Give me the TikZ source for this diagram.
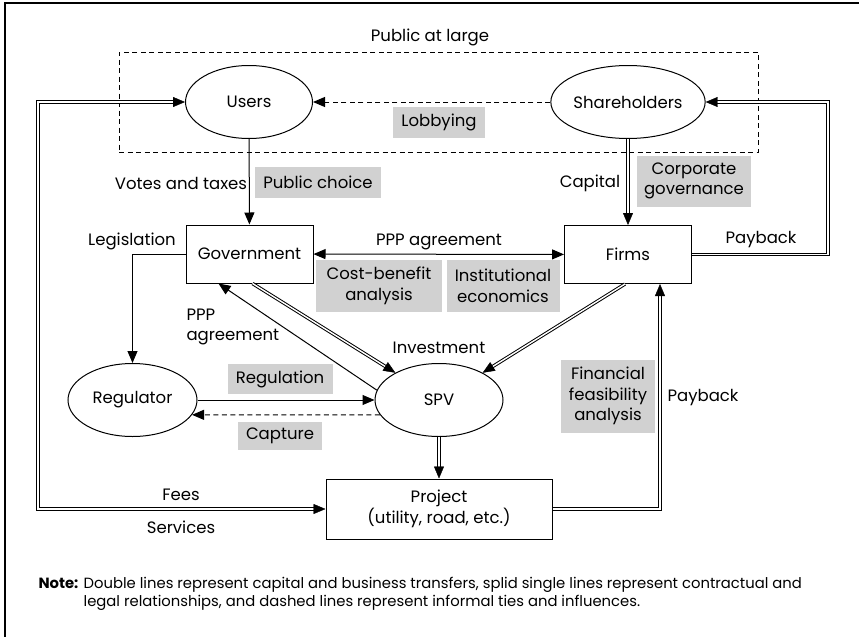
\documentclass[tikz,border=0pt]{standalone}
\usepackage{fontspec}
\setmainfont{Poppins}
\usetikzlibrary{arrows.meta,shapes.geometric}

\begin{document}
\begin{tikzpicture}[x=1pt,y={(0,-1pt)},line width=1pt,
		font=\fontsize{16.5}{20.5}\selectfont,
		actor/.style={draw,ellipse,minimum width=127pt,minimum height=73pt,inner sep=0pt},
		unit/.style={draw,rectangle,minimum width=127pt,minimum height=58pt,inner sep=0pt,align=center},
		field/.style={fill=black!18,inner sep=0pt,align=center},
		informal/.style={dash pattern=on 5pt off 3.5pt},
		dbl/.style={double,double distance=1.4pt,line width=1pt},
		tip/.style={-{Triangle[length=12pt,width=10pt]}},
		twotips/.style={{Triangle[length=12pt,width=10pt]}-{Triangle[length=12pt,width=10pt]}},
		dblhead/.style={white,line width=0.4pt,-{Triangle[length=12pt,width=10pt,black]}},
		dblheads/.style={white,line width=0.4pt,{Triangle[length=12pt,width=10pt,black]}-{Triangle[length=12pt,width=10pt,black]}}]
				\useasboundingbox (0,0) rectangle (859,637);
				\draw[line width=1.4pt] (859,3) -- (5,3) -- (5,637);
				\node[draw,informal,minimum width=639pt,minimum height=100pt,inner sep=0pt] (public) at (438.5,102) {};
				\node (pubtxt) at (430,37) {Public at large};
				\node[actor] (users) at (249,102) {Users};
				\node[actor,minimum width=130pt] (share) at (628,102) {Shareholders};
				\node[unit] (gov) at (249.5,254) {Government};
				\node[unit] (firms) at (628,254.5) {Firms};
				\node[actor,minimum width=129pt] (reg) at (132.5,400) {Regulator};
				\node[actor,minimum width=128pt] (spv) at (439,400) {SPV};
				\node[unit,minimum width=226pt,minimum height=60pt] (proj) at (439,509) {Project\\(utility, road, etc.)};
				\coordinate (lw) at (38,102);
				\draw[informal,tip] (share) -- (users);
				\draw[tip] (users) -- (gov);
				\draw[twotips] (gov) -- (firms);
				\draw[tip] (gov.west) -| (reg.north);
				\draw[tip] (spv.171) -- ([xshift=-31pt]gov.south);
				\draw[tip] (reg.east) -- (spv.west);
				\draw[informal,tip] (spv.194) -- (reg.346);
				\draw[dbl,shorten >=9pt] (share) -- (firms);
				\draw[dblhead] (share) -- (firms);
				\draw[dbl,shorten >=9pt] (firms.east) -- ++(136,0) |- (share.east);
				\draw[dblhead] (firms.east) -- ++(136,0) |- (share.east);
				\draw[dbl,shorten >=9pt] ([xshift=3pt]gov.south) -- (spv);
				\draw[dblhead] ([xshift=3pt]gov.south) -- (spv);
				\draw[dbl,shorten >=9pt] ([xshift=-3pt]firms.south) -- (spv);
				\draw[dblhead] ([xshift=-3pt]firms.south) -- (spv);
				\draw[dbl,shorten >=9pt] (spv) -- (proj);
				\draw[dblhead] (spv) -- (proj);
				\draw[dbl,shorten <=9pt,shorten >=9pt] (users.west) -- (lw) |- (proj.west);
				\draw[dblheads] (users.west) -- (lw) |- (proj.west);
				\draw[dbl,shorten >=9pt] (proj.east) -| ([xshift=32pt]firms.south);
				\draw[dblhead] (proj.east) -| ([xshift=32pt]firms.south);
				\node[field,minimum width=92pt,minimum height=31pt] (lobby) at (439,122) {Lobbying};
				\node (votes) at (181,183) {Votes and taxes};
				\node[field,minimum width=126pt,minimum height=31pt] (pchoice) at (318,182) {Public choice};
				\node (capital) at (590,183) {Capital};
				\node[field,minimum width=114pt,minimum height=51pt] (corp) at (694,181) {Corporate\\governance};
				\node (legis) at (132,241) {Legislation};
				\node (pppa) at (439,242) {PPP agreement};
				\node (payback1) at (761,240) {Payback};
				\node[field,minimum width=126pt,minimum height=52pt] (cba) at (379,286) {Cost-benefit\\analysis};
				\node[field,minimum width=113pt,minimum height=52pt] (inst) at (503,286) {Institutional\\economics};
				\node[align=left,anchor=west,inner sep=0pt] (pppb) at (186,327) {PPP\\agreement};
				\node (invest) at (439,348) {Investment};
				\node[field,minimum width=105pt,minimum height=30pt] (regl) at (280,379) {Regulation};
				\node[field,minimum width=84pt,minimum height=28pt] (capt) at (280,436) {Capture};
				\node[field,minimum width=94pt,minimum height=73pt] (ffa) at (608,396) {Financial\\feasibility\\analysis};
				\node (payback2) at (703,398) {Payback};
				\node (fees) at (181,495) {Fees};
				\node (serv) at (181,527) {Services};
				\node[anchor=north west,inner sep=0pt,font=\fontsize{14.8}{18}\selectfont] (note) at (38,575)
					{\begin{tabular}{@{}l@{ }l@{}}\textbf{Note:} & Double lines represent capital and business transfers, splid single lines represent contractual and\\
					& legal relationships, and dashed lines represent informal ties and influences.\end{tabular}};
			\end{tikzpicture}
\end{document}
